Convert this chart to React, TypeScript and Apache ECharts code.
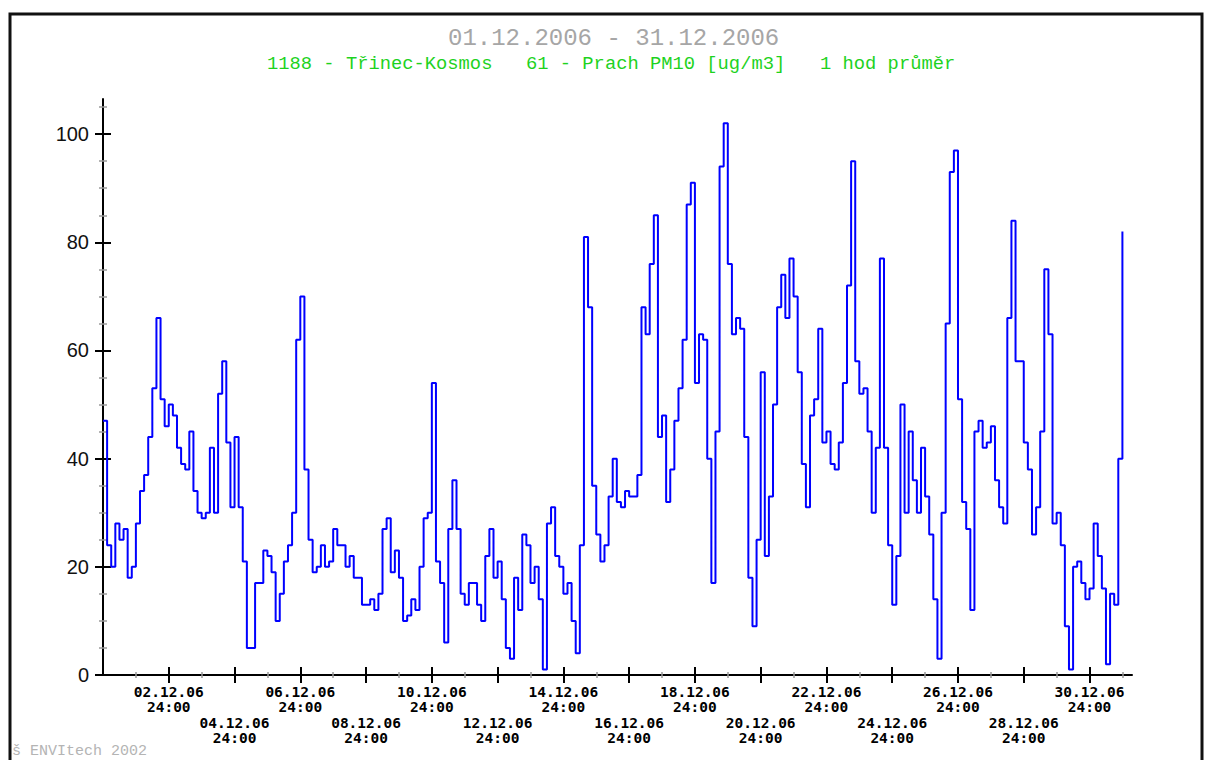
import React, { useEffect, useRef } from "react";
import * as echarts from "echarts";

// ---- texts ----
const TITLE = "01.12.2006 - 31.12.2006";
const SUB_STATION = "1188 - Třinec-Kosmos";
const SUB_QUANTITY = "61 - Prach PM10 [ug/m3]";
const SUB_AVERAGE = "1 hod průměr";
const FOOTER = "š ENVItech 2002";

// ---- data: PM10 [ug/m3], one value per 3 hours ----
const STEP_HOURS = 3;
const dec01_04 = [
  47, 24, 20, 28, 25, 27, 18, 20,
  28, 34, 37, 44, 53, 66, 51, 46,
  50, 48, 42, 39, 38, 45, 34, 30,
  29, 30, 42, 30, 52, 58, 43, 31,
];
const dec05_08 = [
  44, 31, 21, 5, 5, 17, 17, 23,
  22, 19, 10, 15, 21, 24, 30, 62,
  70, 38, 25, 19, 20, 24, 20, 21,
  27, 24, 24, 20, 22, 18, 18, 13,
];
const dec09_12 = [
  13, 14, 12, 15, 27, 29, 19, 23,
  18, 10, 11, 14, 12, 20, 29, 30,
  54, 21, 17, 6, 27, 36, 27, 15,
  13, 17, 17, 13, 10, 22, 27, 18,
];
const dec13_16 = [
  21, 14, 5, 3, 18, 12, 26, 24,
  17, 20, 14, 1, 28, 31, 22, 20,
  15, 17, 10, 4, 24, 81, 68, 35,
  26, 21, 24, 33, 40, 32, 31, 34,
];
const dec17_20 = [
  33, 33, 37, 68, 63, 76, 85, 44,
  48, 32, 38, 47, 53, 62, 87, 91,
  54, 63, 62, 40, 17, 45, 94, 102,
  76, 63, 66, 64, 44, 18, 9, 25,
];
const dec21_24 = [
  56, 22, 33, 50, 68, 74, 66, 77,
  70, 56, 39, 31, 48, 51, 64, 43,
  45, 39, 38, 43, 54, 72, 95, 58,
  52, 53, 45, 30, 42, 77, 42, 24,
];
const dec25_28 = [
  13, 22, 50, 30, 45, 36, 30, 42,
  33, 26, 14, 3, 30, 65, 93, 97,
  51, 32, 27, 12, 45, 47, 42, 43,
  46, 36, 31, 28, 66, 84, 58, 58,
];
const dec29_31 = [
  43, 38, 26, 31, 45, 75, 63, 28,
  30, 24, 9, 1, 20, 21, 17, 14,
  16, 28, 22, 16, 2, 15, 13, 40,
  82,
];
const pm10 = [
  ...dec01_04, ...dec05_08, ...dec09_12, ...dec13_16,
  ...dec17_20, ...dec21_24, ...dec25_28, ...dec29_31,
];

// ---- axis ticks (hours from 01.12.2006 00:00) ----
const X_MAX_HOURS = 751;
const xLabelsUpper = [48, 144, 240, 336, 432, 528, 624, 720];
const xLabelsLower = [96, 192, 288, 384, 480, 576, 672];
const xMajorTicks = [48, 96, 144, 192, 240, 288, 336, 384, 432, 480, 528, 576, 624, 672, 720];
const xMinorTicks = [24, 72, 120, 168, 216, 264, 312, 360, 408, 456, 504, 552, 600, 648, 696, 744];
const Y_MAX = 106.5;
const yMajorTicks = [0, 20, 40, 60, 80, 100];
const yMinorTicks = [5, 10, 15, 25, 30, 35, 45, 50, 55, 65, 70, 75, 85, 90, 95, 105];

const pad2 = (n: number) => (n < 10 ? "0" + n : "" + n);

export default function App() {
  const ref = useRef<HTMLDivElement>(null);

  useEffect(() => {
    if (!ref.current) return;
    const chart = echarts.init(ref.current, undefined, { renderer: "svg" });

    const seriesData = pm10.map((v, i) => [i * STEP_HOURS, v]);
    const monoFont = '"Liberation Mono", "DejaVu Sans Mono", monospace';

    const dateLabel = (value: number) => pad2(Math.round(value / 24)) + ".12.06\n24:00";
    const labelStyle = {
      fontFamily: '"DejaVu Sans Mono", monospace',
      fontWeight: "bold",
      fontSize: 14.5,
      lineHeight: 15,
      color: "#000",
      showMinLabel: true,
      showMaxLabel: true,
      hideOverlap: false,
      formatter: dateLabel,
    };
    const hiddenAxisBase = {
      type: "value",
      min: 0,
      axisLine: { show: false },
      splitLine: { show: false },
    };

    const option: any = {
      animation: false,
      backgroundColor: "#ffffff",
      grid: {
        left: 103,
        top: 99,
        width: 1029,
        height: 576,
        containLabel: false,
        outerBoundsMode: "none",
      },
      xAxis: [
        {
          type: "value",
          position: "bottom",
          min: 0,
          max: X_MAX_HOURS,
          axisLine: { show: true, lineStyle: { color: "#000", width: 2 } },
          axisTick: { show: false },
          splitLine: { show: false },
          axisLabel: { show: true, customValues: xLabelsUpper, margin: 9, ...labelStyle },
        },
        {
          ...hiddenAxisBase,
          position: "bottom",
          max: X_MAX_HOURS,
          axisTick: { show: false },
          axisLabel: { show: true, customValues: xLabelsLower, margin: 40, ...labelStyle },
        },
        {
          ...hiddenAxisBase,
          position: "bottom",
          max: X_MAX_HOURS,
          offset: -8,
          axisLabel: { show: false },
          axisTick: {
            show: true,
            customValues: xMajorTicks,
            length: 16,
            lineStyle: { color: "#000", width: 2 },
          },
        },
        {
          ...hiddenAxisBase,
          position: "bottom",
          max: X_MAX_HOURS,
          offset: -3,
          axisLabel: { show: false },
          axisTick: {
            show: true,
            customValues: xMinorTicks,
            length: 6,
            lineStyle: { color: "#9a9a9a", width: 1.5 },
          },
        },
      ],
      yAxis: [
        {
          type: "value",
          position: "left",
          min: 0,
          max: Y_MAX,
          axisLine: { show: true, lineStyle: { color: "#000", width: 2 } },
          axisTick: { show: false },
          splitLine: { show: false },
          axisLabel: {
            show: true,
            customValues: yMajorTicks,
            margin: 14,
            fontFamily: '"Liberation Sans", Arial, sans-serif',
            fontSize: 20,
            color: "#111",
            showMinLabel: true,
            showMaxLabel: true,
          },
        },
        {
          ...hiddenAxisBase,
          position: "left",
          max: Y_MAX,
          offset: -8,
          axisLabel: { show: false },
          axisTick: {
            show: true,
            customValues: yMajorTicks,
            length: 16,
            lineStyle: { color: "#000", width: 2 },
          },
        },
        {
          ...hiddenAxisBase,
          position: "left",
          max: Y_MAX,
          offset: -4,
          axisLabel: { show: false },
          axisTick: {
            show: true,
            customValues: yMinorTicks,
            length: 8,
            lineStyle: { color: "#9a9a9a", width: 1.5 },
          },
        },
      ],
      series: [
        {
          type: "line",
          xAxisIndex: 0,
          yAxisIndex: 0,
          step: "end",
          data: seriesData,
          showSymbol: false,
          symbol: "none",
          lineStyle: { color: "#0000ff", width: 2 },
          clip: false,
        },
      ],
      graphic: [
        {
          type: "rect",
          silent: true,
          shape: { x: 10, y: 14, width: 1192, height: 770 },
          style: { fill: "none", stroke: "#111", lineWidth: 3 },
        },
        {
          type: "text",
          x: 448,
          y: 38,
          style: {
            text: TITLE,
            font: "24px " + monoFont,
            fill: "#a6a6a6",
            align: "left",
            verticalAlign: "middle",
            textAlign: "left",
            textVerticalAlign: "middle",
          },
        },
        {
          type: "text",
          x: 267,
          y: 64,
          style: {
            text: SUB_STATION,
            font: "18.8px " + monoFont,
            fill: "#1ed21e",
            align: "left",
            verticalAlign: "middle",
            textAlign: "left",
            textVerticalAlign: "middle",
          },
        },
        {
          type: "text",
          x: 526,
          y: 64,
          style: {
            text: SUB_QUANTITY,
            font: "18.8px " + monoFont,
            fill: "#1ed21e",
            align: "left",
            verticalAlign: "middle",
            textAlign: "left",
            textVerticalAlign: "middle",
          },
        },
        {
          type: "text",
          x: 820,
          y: 64,
          style: {
            text: SUB_AVERAGE,
            font: "18.8px " + monoFont,
            fill: "#1ed21e",
            align: "left",
            verticalAlign: "middle",
            textAlign: "left",
            textVerticalAlign: "middle",
          },
        },
        {
          type: "text",
          x: 12,
          y: 744,
          style: {
            text: FOOTER,
            font: "15px " + monoFont,
            fill: "#b4b4b4",
            align: "left",
            verticalAlign: "top",
            textAlign: "left",
            textVerticalAlign: "top",
          },
        },
      ],
    };

    chart.setOption(option);
    return () => {
      chart.dispose();
    };
  }, []);

  return (
    <div
      ref={ref}
      style={{ position: "fixed", left: 0, top: 0, width: 1205, height: 760, background: "#fff" }}
    />
  );
}
